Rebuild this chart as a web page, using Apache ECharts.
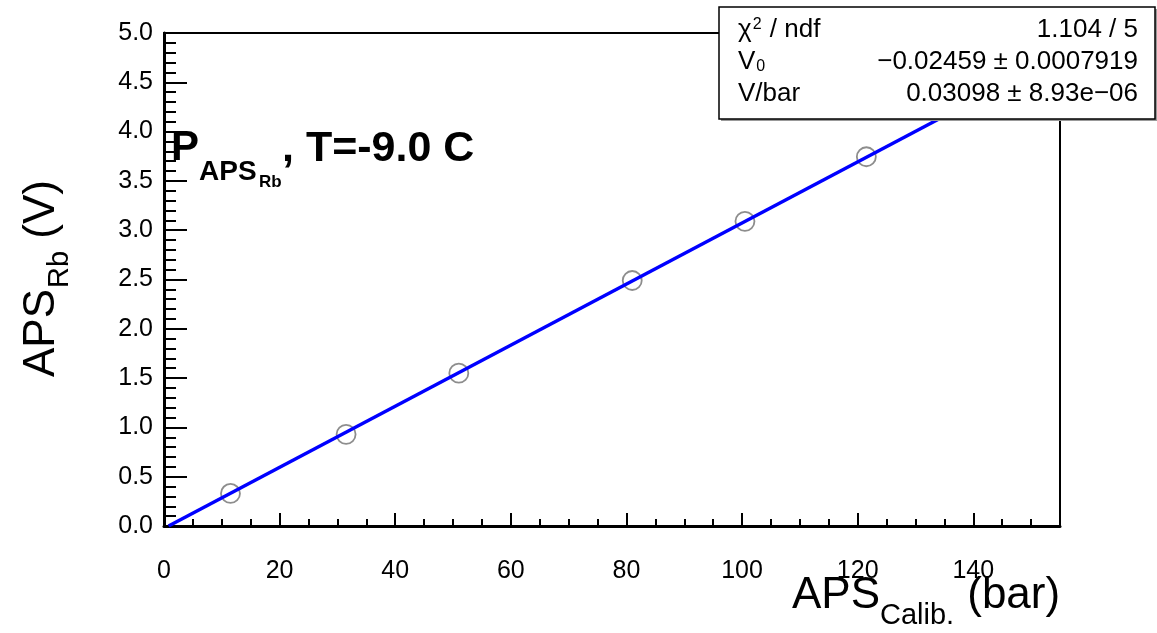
<!DOCTYPE html>
<html>
<head>
<meta charset="utf-8">
<script src="https://cdn.jsdelivr.net/npm/echarts@6/dist/echarts.min.js"></script>
<style>
html,body{margin:0;padding:0;background:#fff;}
#chart{width:1157px;height:633px;}
</style>
</head>
<body>
<div id="chart"></div>
<script>
// ---- data ----
const pointsX = [11.5, 31.5, 51.0, 81.0, 100.5, 121.5];
const pointsY = [0.33, 0.93, 1.55, 2.49, 3.09, 3.745];
// fit line end points (V = V0 + slope * P, drawn from y=0 to the right frame edge)
const fitX = [0.79, 155];
const fitY = [0.0, 4.777];
const xRange = [0, 155];
const yRange = [0, 5];
const statsLabels = ['χ² / ndf', 'V₀', 'V/bar'];
const statsValues = ['1.104 / 5', '\u22120.02459 ± 0.0007919', '0.03098 ± 8.93e\u221206'];

const FONT = '"Liberation Sans", Arial, Helvetica, sans-serif';
const chart = echarts.init(document.getElementById('chart'), null, {renderer: 'canvas'});

const scatterData = pointsX.map((x, i) => [x, pointsY[i]]);
const fitData = fitX.map((x, i) => [x, fitY[i]]);

function txt(x, y, text, size, opts) {
  opts = opts || {};
  return {
    type: 'text', x: x, y: y, z: 200, rotation: opts.rot || 0,
    style: {
      text: text, fill: '#000', font: (opts.bold ? 'bold ' : '') + size + 'px ' + FONT,
      align: opts.align || 'left', verticalAlign: 'middle'
    }
  };
}

const SF = 26; // stats font size
const graphics = [];
// stats box (shadow + box)
graphics.push({type: 'rect', z: 150, shape: {x: 721, y: 9, width: 436, height: 112}, style: {fill: '#999'}});
graphics.push({type: 'rect', z: 151, shape: {x: 719, y: 7, width: 436, height: 112}, style: {fill: '#fff', stroke: '#000', lineWidth: 1.5}});
const rowY = [30, 62, 94];
graphics.push({
  type: 'text', x: 738, y: rowY[0], z: 200,
  style: {
    text: '{a|χ}{s|2}{a| / ndf}', verticalAlign: 'middle', align: 'left',
    rich: {
      a: {font: SF + 'px ' + FONT, fill: '#000', verticalAlign: 'bottom'},
      s: {font: '16px ' + FONT, fill: '#000', verticalAlign: 'top', padding: [0, 1, 0, 1]}
    }
  }
});
graphics.push({
  type: 'text', x: 738, y: rowY[1], z: 200,
  style: {
    text: '{a|V}{s|0}', verticalAlign: 'middle', align: 'left',
    rich: {
      a: {font: SF + 'px ' + FONT, fill: '#000', verticalAlign: 'top'},
      s: {font: '16px ' + FONT, fill: '#000', verticalAlign: 'bottom', padding: [0, 0, 0, 1]}
    }
  }
});
graphics.push(txt(738, rowY[2], statsLabels[2], SF));
for (let i = 0; i < 3; i++) graphics.push(txt(1138, rowY[i], statsValues[i], SF, {align: 'right'}));

// plot title P_{APS_{Rb}}, T=-9.0 C
graphics.push(txt(171, 148, 'P', 42, {bold: true}));
graphics.push(txt(199, 172, 'APS', 28, {bold: true}));
graphics.push(txt(259, 182, 'Rb', 17, {bold: true}));
graphics.push(txt(282, 149, ', T=-9.0 C', 43, {bold: true}));

// x axis title APS_{Calib.} (bar)
graphics.push(txt(792, 596, 'APS', 44));
graphics.push(txt(880, 616, 'Calib.', 29));
graphics.push(txt(955, 596, ' (bar)', 44));

// y axis title APS_{Rb} (V)
graphics.push(txt(42, 377, 'APS', 44, {rot: Math.PI / 2}));
graphics.push(txt(60, 288, 'Rb', 29, {rot: Math.PI / 2}));
graphics.push(txt(42, 251, ' (V)', 44, {rot: Math.PI / 2}));

const option = {
  animation: false,
  backgroundColor: '#fff',
  grid: {left: 164, right: 97, top: 33, bottom: 107, show: true, borderColor: '#000', borderWidth: 2, backgroundColor: 'transparent'},
  xAxis: [
    {
      type: 'value', min: xRange[0], max: xRange[1], interval: 20,
      axisLine: {onZero: false, lineStyle: {color: '#000', width: 3}},
      axisTick: {inside: true, length: 13, lineStyle: {color: '#000', width: 2}},
      axisLabel: {showMaxLabel: false, margin: 33, fontSize: 25, fontFamily: FONT, color: '#000'},
      splitLine: {show: false}
    },
    {
      type: 'value', min: xRange[0], max: xRange[1], interval: 5, position: 'bottom', gridIndex: 0,
      axisLine: {show: false},
      axisTick: {inside: true, length: 7, lineStyle: {color: '#000', width: 2}},
      axisLabel: {show: false},
      splitLine: {show: false}
    }
  ],
  yAxis: {
    type: 'value', min: yRange[0], max: yRange[1], interval: 0.5,
    axisLine: {show: true, onZero: false, lineStyle: {color: '#000', width: 3}},
    axisTick: {show: true, inside: true, length: 23, lineStyle: {color: '#000', width: 2}},
    minorTick: {show: true, splitNumber: 5, length: 12, lineStyle: {color: '#000', width: 2}},
    axisLabel: {margin: 11, fontSize: 25, fontFamily: FONT, color: '#000', formatter: v => v.toFixed(1)},
    splitLine: {show: false}
  },
  series: [
    {
      type: 'scatter', xAxisIndex: 0, data: scatterData, symbol: 'circle', symbolSize: 19, z: 3,
      itemStyle: {color: 'rgba(0,0,0,0)', borderColor: '#707070', borderWidth: 1.8}
    },
    {
      type: 'line', xAxisIndex: 0, data: fitData, showSymbol: false, symbol: 'none', z: 4, clip: true,
      lineStyle: {color: '#0000ff', width: 3.5}
    }
  ],
  graphic: graphics
};
chart.setOption(option);
</script>
</body>
</html>
